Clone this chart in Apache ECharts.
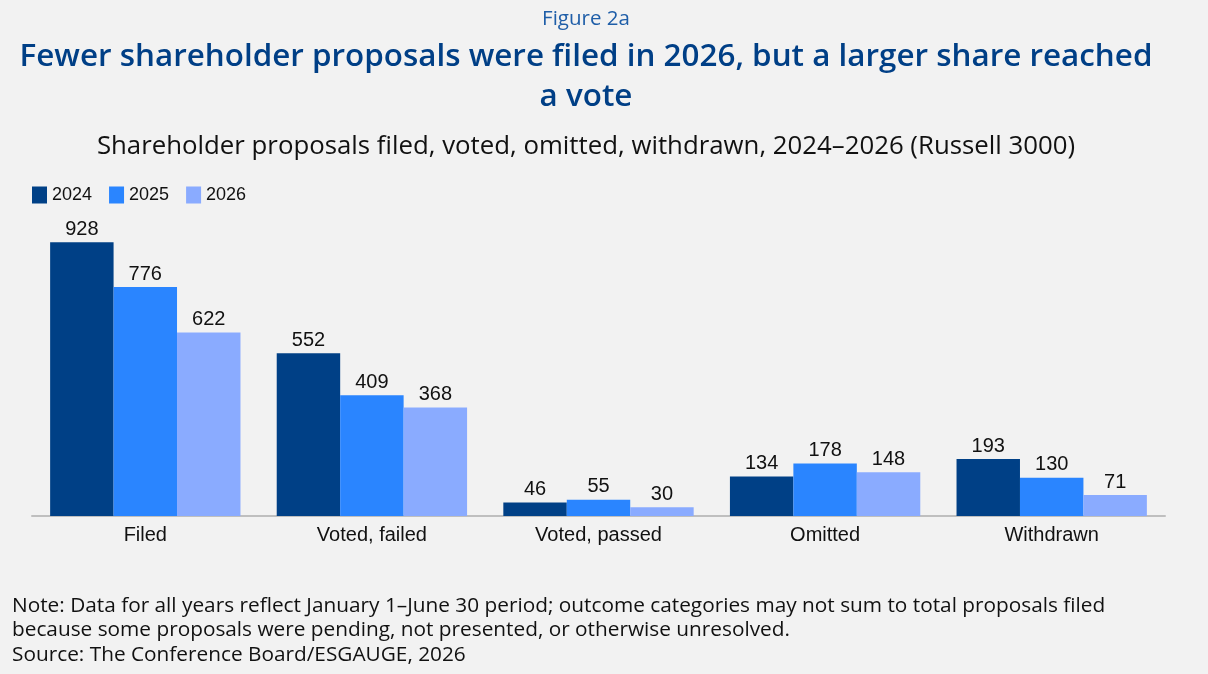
<!DOCTYPE html>
<html>
<head>
<meta charset="utf-8">
<script src="https://cdn.jsdelivr.net/npm/echarts@6/dist/echarts.min.js"></script>
<style>
html, body { margin: 0; padding: 0; background: #f2f2f2; }
#main { width: 1208px; height: 674px; }
</style>
</head>
<body>
<div id="main"></div>
<script>
// 数据
var categories = ['Filed', 'Voted, failed', 'Voted, passed', 'Omitted', 'Withdrawn'];
var years = ['2024', '2025', '2026'];
var values2024 = [928, 552, 46, 134, 193];
var values2025 = [776, 409, 55, 178, 130];
var values2026 = [622, 368, 30, 148, 71];
var colors = ['#004086', '#2a85ff', '#8aabff'];

var chart = echarts.init(document.getElementById('main'));

function barSeries(name, data) {
    return {
        name: name,
        type: 'bar',
        data: data,
        barGap: '0%',
        barCategoryGap: '16%',
        label: {
            show: true,
            position: 'top',
            distance: 3,
            color: '#111',
            fontFamily: 'Liberation Sans',
            fontSize: 20
        }
    };
}

// 标题中心约在 x=586（不是画布正中），用 graphic 文本定位
var titleX = 586;

var option = {
    backgroundColor: '#f2f2f2',
    color: colors,
    title: [
        {
            text: 'Note: Data for all years reflect January 1\u2013June 30 period; outcome categories may not sum to total proposals filed\nbecause some proposals were pending, not presented, or otherwise unresolved.\nSource: The Conference Board/ESGAUGE, 2026',
            left: 7,
            top: 589,
            textStyle: { color: '#111', fontFamily: 'Open Sans', fontSize: 20.8, fontWeight: 'normal', lineHeight: 24.3 }
        }
    ],
    graphic: [
        {
            type: 'text',
            x: titleX,
            y: 19,
            style: {
                text: 'Figure 2a',
                align: 'center',
                verticalAlign: 'middle',
                fill: '#1f5ea8',
                font: 'normal 20.5px "Open Sans"'
            }
        },
        {
            type: 'text',
            x: titleX,
            y: 77,
            style: {
                text: 'Fewer shareholder proposals were filed in 2026, but a larger share reached\na vote',
                align: 'center',
                verticalAlign: 'middle',
                lineHeight: 40,
                fill: '#003f86',
                font: '600 31.4px "Open Sans"'
            }
        },
        {
            type: 'text',
            x: titleX,
            y: 147,
            style: {
                text: 'Shareholder proposals filed, voted, omitted, withdrawn, 2024\u20132026 (Russell 3000)',
                align: 'center',
                verticalAlign: 'middle',
                fill: '#111',
                font: 'normal 25.8px "Open Sans"'
            }
        }
    ],
    legend: {
        data: years,
        left: 27,
        top: 181,
        itemWidth: 15,
        itemHeight: 17,
        itemGap: 17,
        icon: 'rect',
        textStyle: { color: '#111', fontFamily: 'Liberation Sans', fontSize: 18 }
    },
    grid: {
        left: 32,
        right: 43,
        top: 221,
        bottom: 158
    },
    xAxis: {
        type: 'category',
        data: categories,
        axisLine: { lineStyle: { color: '#bfbfbf', width: 2 } },
        axisTick: { show: false },
        axisLabel: { color: '#111', fontFamily: 'Liberation Sans', fontSize: 20, margin: 9 }
    },
    yAxis: {
        type: 'value',
        min: 0,
        max: 1000,
        show: false,
        splitLine: { show: false }
    },
    series: [
        barSeries('2024', values2024),
        barSeries('2025', values2025),
        barSeries('2026', values2026)
    ]
};
chart.setOption(option);
</script>
</body>
</html>
